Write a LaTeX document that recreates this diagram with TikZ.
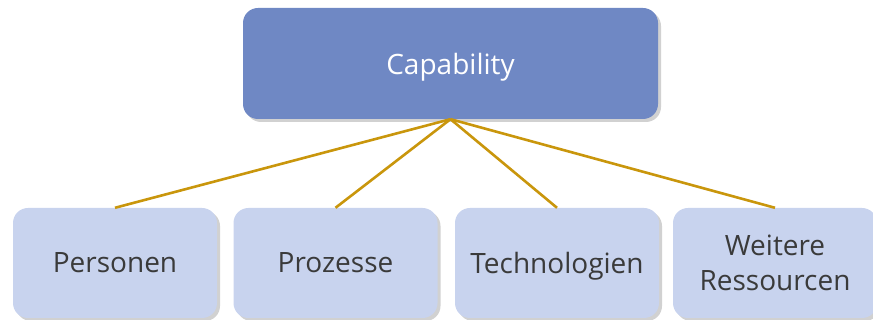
\documentclass[tikz,border=0pt]{standalone}
\usepackage{fontspec}
\setmainfont{Open Sans}
\usepackage{tikz}
\usetikzlibrary{shadows,backgrounds}
\definecolor{capblue}{HTML}{6F88C4}
\definecolor{resblue}{HTML}{C8D3EE}
\definecolor{linkgold}{HTML}{C9960C}
\definecolor{textgray}{HTML}{3A3A3A}
\tikzset{
  box/.style={rounded corners=15pt, minimum width=204pt, minimum height=110pt,
    inner sep=0pt, align=center, font=\fontsize{28}{35}\selectfont, text depth=0pt,
    drop shadow={shadow xshift=3pt, shadow yshift=-3pt, opacity=0.3, fill=black!60}},
  topbox/.style={box, fill=capblue, text=white, minimum width=415pt, minimum height=111pt},
  resbox/.style={box, fill=resblue, text=textgray},
  link/.style={draw=linkgold, line width=2.6pt}
}
\begin{document}
\begin{tikzpicture}[x=1pt,y=1pt]
\useasboundingbox (0,0) rectangle (873,320);
\clip (0,0) rectangle (873,320);
\node[topbox] (cap) at (450.5,256.5) {Capability};
\node[resbox] (pers) at (115,57) {Personen};
\node[resbox] (proz) at (335.5,57) {Prozesse};
\node[resbox] (tech) at (557,57) {Technologien};
\node[resbox] (weit) at (775,57) {Weitere\\Ressourcen};
\foreach \n in {pers,proz,tech,weit}
  \draw[link] (cap.south) -- (\n.north);
\end{tikzpicture}
\end{document}
